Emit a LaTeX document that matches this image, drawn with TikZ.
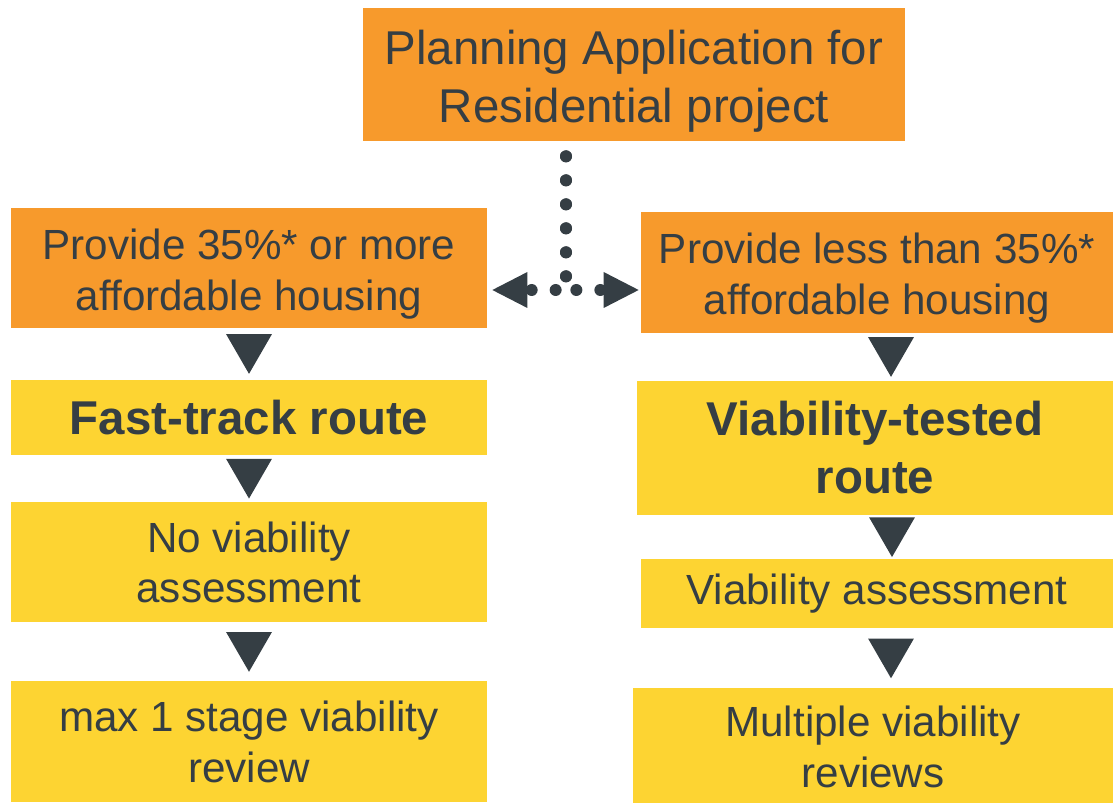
\documentclass[tikz,border=0pt]{standalone}
\usepackage{fontspec}
\setmainfont{Liberation Sans}
\usepackage{xcolor}
\usepackage{tikz}
\usetikzlibrary{shapes.geometric, arrows}
\usetikzlibrary{positioning, arrows.meta}
\usetikzlibrary{calc}

\definecolor{boxorange}{HTML}{F79A2C}
\definecolor{boxyellow}{HTML}{FDD432}
\definecolor{inkgrey}{HTML}{353E44}

% taller first line, drops the text a little in the orange boxes
\newcommand{\dropstrut}{\rule{0pt}{1em}}

\begin{document}
\begin{tikzpicture}[
        node distance=1cm,
        startbox/.style={rectangle, minimum width=10.84cm, minimum height=2.66cm, text centered, align=center, fill=boxorange, text=inkgrey, font=\fontsize{27}{33}\selectfont},
        choicebox/.style={rectangle, minimum width=9.52cm, minimum height=2.4cm, text centered, align=center, fill=boxorange, text=inkgrey, font=\fontsize{24}{29}\selectfont},
        routebox/.style={rectangle, minimum width=9.52cm, text centered, align=center, fill=boxyellow, text=inkgrey, font=\fontsize{27}{33}\bfseries\selectfont},
        stepbox/.style={rectangle, minimum width=9.52cm, text centered, align=center, fill=boxyellow, text=inkgrey, font=\fontsize{24}{29}\selectfont},
        downtri/.style={regular polygon, regular polygon sides=3, shape border rotate=180, minimum size=1.06cm, inner sep=0pt, fill=inkgrey, yshift=0.13cm},
        dotline/.style={draw=inkgrey, line width=0.24cm, line cap=round, dash pattern=on 0pt off 0.48cm, -{Triangle[length=0.7cm, width=0.72cm, line width=0pt]}}
    ]
        \useasboundingbox (0,0) rectangle (22.26,-16.06);

        % ===== top =====
        \node (app) [startbox] at (12.68,-1.49) {\dropstrut Planning Application for\\Residential project};

        % ===== left column =====
        \node (more) [choicebox] at (4.98,-5.36) {\dropstrut Provide 35\%* or more\\affordable housing};
        \node (fast) [routebox, minimum height=1.5cm, below=1.02cm of more] {Fast-track route};
        \node (noviab) [stepbox, minimum height=2.4cm, below=0.94cm of fast] {No viability\\assessment};
        \node (maxone) [stepbox, minimum height=2.42cm, below=1.16cm of noviab] {max 1 stage viability\\review};

        % ===== right column =====
        \node (less) [choicebox, minimum width=9.44cm, minimum height=2.42cm] at (17.54,-5.45) {\dropstrut Provide less than 35\%*\\affordable housing};
        \node (tested) [routebox, minimum height=2.68cm, below=0.94cm of less, xshift=-0.04cm] {Viability-tested\\route};
        \node (assess) [stepbox, minimum width=9.44cm, minimum height=1.38cm, below=0.88cm of tested, xshift=0.04cm] {Viability assessment};
        \node (multi) [stepbox, minimum width=9.6cm, minimum height=2.36cm, below=1.18cm of assess, xshift=-0.08cm] {Multiple viability\\reviews};

        % ===== split points =====
        \coordinate (fork) at (11.32,-5.8);
        \coordinate (drop) at ($(app.south -| fork)+(0,-0.3)$);
        \coordinate (lefttip) at ($(more.east |- fork)+(0.1,0)$);
        \coordinate (righttip) at ($(less.west |- fork)+(-0.04,0)$);

        % ===== dotted split =====
        \draw [dotline] (drop) -- (fork) -- (lefttip);
        \draw [dotline] (drop) -- (fork) -- (righttip);

        % ===== flow triangles =====
        \path (more.south) -- node[downtri] {} (fast.north);
        \path (fast.south) -- node[downtri] {} (noviab.north);
        \path (noviab.south) -- node[downtri] {} (maxone.north);
        \path ([xshift=0.28cm]less.south) -- node[downtri] {} ([xshift=0.32cm]tested.north);
        \path ([xshift=0.34cm]tested.south) -- node[downtri] {} ([xshift=0.3cm]assess.north);
        \path ([xshift=0.28cm]assess.south) -- node[downtri] {} ([xshift=0.36cm]multi.north);

    \end{tikzpicture}
\end{document}
